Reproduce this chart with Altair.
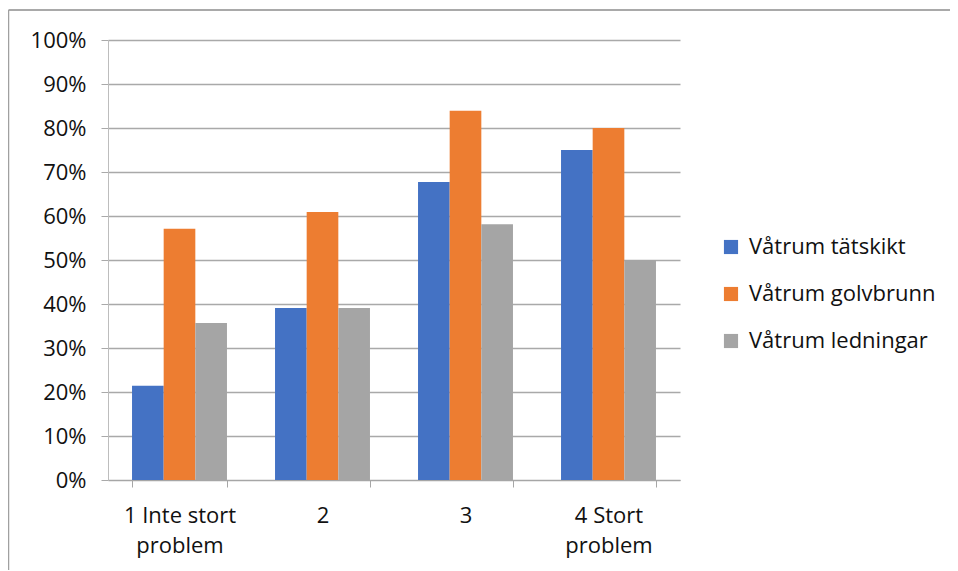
import altair as alt
import pandas as pd

categories = ["1 Inte stort\nproblem", "2", "3", "4 Stort\nproblem"]
series = ["Våtrum tätskikt", "Våtrum golvbrunn", "Våtrum ledningar"]
tatskikt = [0.214, 0.391, 0.677, 0.75]
golvbrunn = [0.571, 0.609, 0.839, 0.80]
ledningar = [0.357, 0.391, 0.581, 0.50]
colors = ["#4472C4", "#ED7D31", "#A5A5A5"]
y_ticks = [i / 10 for i in range(11)]

rows = []
for vals, s in zip([tatskikt, golvbrunn, ledningar], series):
    for c, v in zip(categories, vals):
        rows.append({"kategori": c, "serie": s, "andel": v})
df = pd.DataFrame(rows)

FONT = "Open Sans"
FS = 22

bars = alt.Chart(df).mark_bar().encode(
    x=alt.X(
        "kategori:N",
        sort=categories,
        title=None,
        scale=alt.Scale(paddingInner=0.336, paddingOuter=0.168),
        axis=alt.Axis(
            labelAngle=0,
            labelExpr="split(datum.label, '\\n')",
            labelLineHeight=30,
            tickBand="extent",
            tickSize=7,
            tickColor="#A6A6A6",
            domainColor="#A6A6A6",
            labelPadding=18,
            labelFont=FONT,
            labelFontSize=FS,
            labelColor="#111111",
            labelBaseline="top",
            grid=False,
        ),
    ),
    xOffset=alt.XOffset("serie:N", sort=series, scale=alt.Scale(paddingInner=0, paddingOuter=0)),
    y=alt.Y(
        "andel:Q",
        title=None,
        scale=alt.Scale(domain=[0, 1], nice=False),
        axis=alt.Axis(
            values=y_ticks,
            format=".0%",
            grid=True,
            gridColor="#A9A9A9",
            gridWidth=1.3,
            tickSize=7,
            tickColor="#A9A9A9",
            domainColor="#BDBDBD",
            labelPadding=15,
            labelFont=FONT,
            labelFontSize=FS,
            labelColor="#111111",
        ),
    ),
    color=alt.Color(
        "serie:N",
        sort=series,
        scale=alt.Scale(domain=series, range=colors),
        legend=alt.Legend(
            title=None,
            orient="none",
            legendX=612,
            legendY=196,
            symbolType="square",
            symbolSize=200,
            symbolStrokeWidth=0,
            labelFont=FONT,
            labelFontSize=FS,
            labelColor="#111111",
            labelOffset=7,
            labelLimit=400,
            rowPadding=25,
        ),
    ),
)

dummy = pd.DataFrame({"a": [0]})
top_line = alt.Chart(dummy).mark_rule(color="#8C8C8C", strokeWidth=1.5, clip=False).encode(
    x=alt.value(-99.5), x2=alt.value(845), y=alt.value(-30)
)
left_line = alt.Chart(dummy).mark_rule(color="#A0A0A0", strokeWidth=1.5, clip=False).encode(
    x=alt.value(-99.5), y=alt.value(-30), y2=alt.value(540)
)

chart = alt.layer(top_line, left_line, bars).properties(
    width=572,
    height=440,
    background="white",
    autosize=alt.AutoSizeParams(type="none"),
    padding={"left": 100, "top": 32, "right": 270, "bottom": 90},
).configure_view(stroke=None)

chart.save("out.html", embed_options={"renderer": "svg", "actions": False})
